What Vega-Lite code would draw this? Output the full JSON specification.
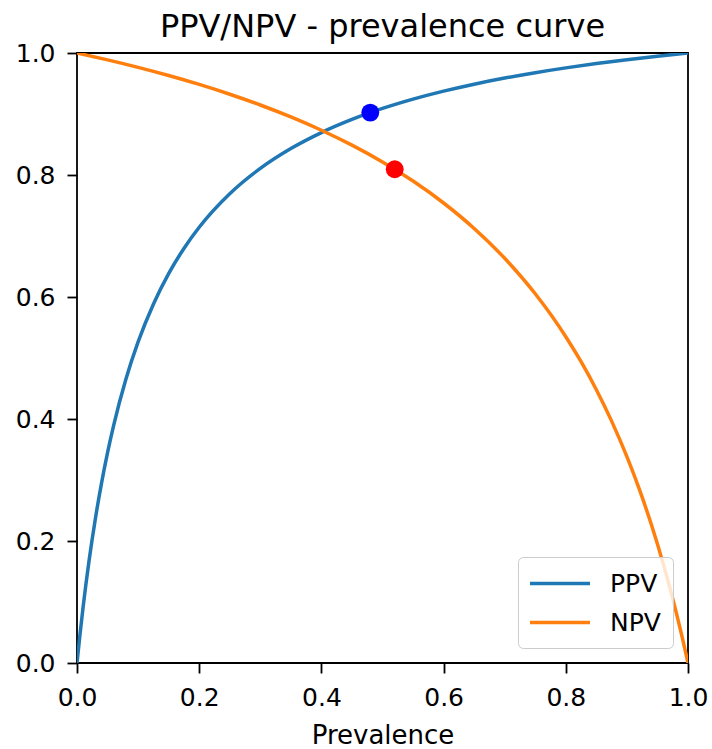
{
  "$schema": "https://vega.github.io/schema/vega-lite/v6.json",
  "autosize": "none",
  "width": 611,
  "height": 610,
  "padding": {"left": 77, "top": 53, "right": 24, "bottom": 86},
  "background": "white",
  "title": {"text": "PPV/NPV - prevalence curve", "fontSize": 32, "font": "DejaVu Sans", "fontWeight": "normal", "color": "black", "offset": 10, "dy": 13, "anchor": "middle"},
  "config": {
    "font": "DejaVu Sans",
    "view": {"stroke": "black", "strokeWidth": 1.8},
    "axis": {"grid": false, "domain": false, "tickColor": "black", "tickWidth": 1.8, "tickSize": 10, "labelColor": "black", "labelFontSize": 25, "labelPadding": 12, "labelFlush": false, "labelOverlap": false, "titleColor": "black", "titleFontSize": 26, "titleFontWeight": "normal", "labelFont": "DejaVu Sans", "titleFont": "DejaVu Sans"}
  },
  "datasets": {
    "curves": [
      {"p": 0, "v": 0, "s": "PPV"},
      {"p": 0.005, "v": 0.04785, "s": "PPV"},
      {"p": 0.01, "v": 0.09174, "s": "PPV"},
      {"p": 0.02, "v": 0.16949, "s": "PPV"},
      {"p": 0.03, "v": 0.23622, "s": "PPV"},
      {"p": 0.04, "v": 0.29412, "s": "PPV"},
      {"p": 0.05, "v": 0.34483, "s": "PPV"},
      {"p": 0.06, "v": 0.38961, "s": "PPV"},
      {"p": 0.08, "v": 0.46512, "s": "PPV"},
      {"p": 0.1, "v": 0.52632, "s": "PPV"},
      {"p": 0.125, "v": 0.58824, "s": "PPV"},
      {"p": 0.15, "v": 0.6383, "s": "PPV"},
      {"p": 0.175, "v": 0.67961, "s": "PPV"},
      {"p": 0.2, "v": 0.71429, "s": "PPV"},
      {"p": 0.25, "v": 0.76923, "s": "PPV"},
      {"p": 0.3, "v": 0.81081, "s": "PPV"},
      {"p": 0.35, "v": 0.84337, "s": "PPV"},
      {"p": 0.4, "v": 0.86957, "s": "PPV"},
      {"p": 0.45, "v": 0.89109, "s": "PPV"},
      {"p": 0.5, "v": 0.90909, "s": "PPV"},
      {"p": 0.55, "v": 0.92437, "s": "PPV"},
      {"p": 0.6, "v": 0.9375, "s": "PPV"},
      {"p": 0.65, "v": 0.94891, "s": "PPV"},
      {"p": 0.7, "v": 0.9589, "s": "PPV"},
      {"p": 0.75, "v": 0.96774, "s": "PPV"},
      {"p": 0.8, "v": 0.97561, "s": "PPV"},
      {"p": 0.85, "v": 0.98266, "s": "PPV"},
      {"p": 0.9, "v": 0.98901, "s": "PPV"},
      {"p": 0.95, "v": 0.99476, "s": "PPV"},
      {"p": 1, "v": 1, "s": "PPV"},
      {"p": 0, "v": 1, "s": "NPV"},
      {"p": 0.05, "v": 0.98869, "s": "NPV"},
      {"p": 0.1, "v": 0.97642, "s": "NPV"},
      {"p": 0.15, "v": 0.96305, "s": "NPV"},
      {"p": 0.2, "v": 0.94845, "s": "NPV"},
      {"p": 0.25, "v": 0.93243, "s": "NPV"},
      {"p": 0.3, "v": 0.91477, "s": "NPV"},
      {"p": 0.35, "v": 0.89521, "s": "NPV"},
      {"p": 0.4, "v": 0.87342, "s": "NPV"},
      {"p": 0.45, "v": 0.84899, "s": "NPV"},
      {"p": 0.5, "v": 0.82143, "s": "NPV"},
      {"p": 0.55, "v": 0.79008, "s": "NPV"},
      {"p": 0.6, "v": 0.7541, "s": "NPV"},
      {"p": 0.65, "v": 0.71239, "s": "NPV"},
      {"p": 0.7, "v": 0.66346, "s": "NPV"},
      {"p": 0.75, "v": 0.60526, "s": "NPV"},
      {"p": 0.8, "v": 0.53488, "s": "NPV"},
      {"p": 0.825, "v": 0.49387, "s": "NPV"},
      {"p": 0.85, "v": 0.44805, "s": "NPV"},
      {"p": 0.875, "v": 0.39655, "s": "NPV"},
      {"p": 0.9, "v": 0.33824, "s": "NPV"},
      {"p": 0.92, "v": 0.28571, "s": "NPV"},
      {"p": 0.94, "v": 0.22697, "s": "NPV"},
      {"p": 0.95, "v": 0.19492, "s": "NPV"},
      {"p": 0.96, "v": 0.16084, "s": "NPV"},
      {"p": 0.97, "v": 0.12455, "s": "NPV"},
      {"p": 0.98, "v": 0.08582, "s": "NPV"},
      {"p": 0.99, "v": 0.0444, "s": "NPV"},
      {"p": 1, "v": 0, "s": "NPV"}
    ],
    "dots": [
      {"p": 0.48, "v": 0.9023, "c": "#0000ff"},
      {"p": 0.52, "v": 0.8094, "c": "#ff0000"}
    ]
  },
  "layer": [
    {
      "data": {"name": "curves"},
      "mark": {"type": "line", "strokeWidth": 3.5, "interpolate": "monotone", "clip": true},
      "encoding": {
        "x": {"field": "p", "type": "quantitative", "scale": {"domain": [0, 1], "nice": false, "zero": false}, "axis": {"values": [0, 0.2, 0.4, 0.6, 0.8, 1.0], "format": ".1f", "title": "Prevalence", "titlePadding": 12}},
        "y": {"field": "v", "type": "quantitative", "scale": {"domain": [0, 1], "nice": false, "zero": false}, "axis": {"values": [0, 0.2, 0.4, 0.6, 0.8, 1.0], "format": ".1f", "title": null}},
        "color": {"field": "s", "type": "nominal", "scale": {"domain": ["PPV", "NPV"], "range": ["#1f77b4", "#ff7f0e"]},
          "legend": {"title": null, "orient": "none", "legendX": 441, "legendY": 504, "symbolType": "M-2.4,0H2.4", "symbolSize": 625, "symbolStrokeWidth": 3.5, "symbolOffset": 15.5, "labelFontSize": 25, "labelColor": "black", "labelOffset": 35.5, "padding": 12, "fillColor": "rgba(255,255,255,0.8)", "strokeColor": "#cccccc", "cornerRadius": 5, "rowPadding": 11}},
        "detail": {"field": "s"}
      }
    },
    {
      "data": {"name": "dots"},
      "mark": {"type": "point", "filled": true, "size": 320, "opacity": 1},
      "encoding": {
        "x": {"field": "p", "type": "quantitative"},
        "y": {"field": "v", "type": "quantitative"},
        "fill": {"field": "c", "type": "nominal", "scale": null},
        "color": {"value": null}
      }
    }
  ]
}
